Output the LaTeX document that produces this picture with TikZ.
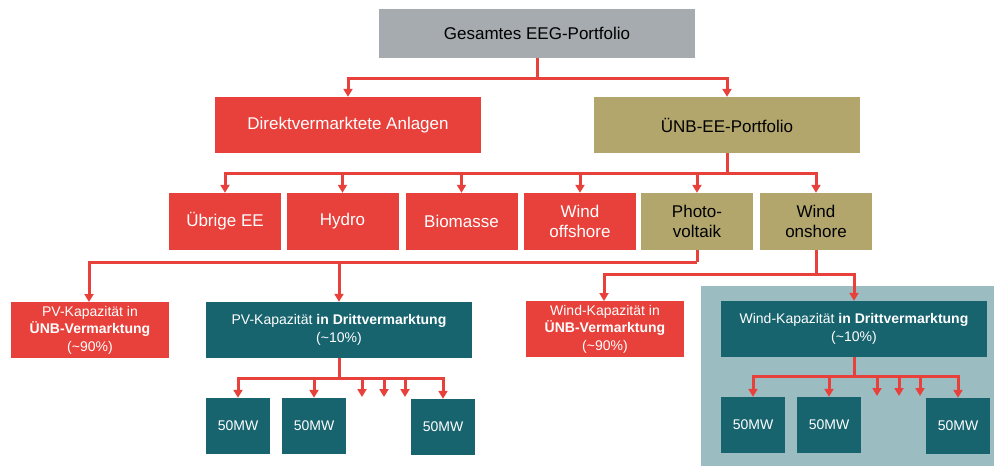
\documentclass[tikz,border=0pt]{standalone}
\usepackage{fontspec}
\setmainfont{Liberation Sans}
\usetikzlibrary{arrows.meta}
\definecolor{cred}{HTML}{E8403A}
\definecolor{cgrey}{HTML}{A5ABAE}
\definecolor{colive}{HTML}{B2A66D}
\definecolor{cteal}{HTML}{17646F}
\definecolor{clteal}{HTML}{9BBDC1}
\begin{document}
\begin{tikzpicture}[x=1pt,y=-1pt,
  box/.style={rectangle, inner sep=0pt, align=center, font=\fontsize{17}{20}\selectfont},
  redbox/.style={box, fill=cred, text=white},
  greybox/.style={box, fill=cgrey, text=black},
  olivebox/.style={box, fill=colive, text=black},
  tealbox/.style={box, fill=cteal, text=white},
  small/.style={font=\fontsize{14}{17.5}\selectfont},
  wide/.style={minimum width=266pt, minimum height=56pt},
  mid/.style={minimum width=158pt, minimum height=56pt},
  cat/.style={minimum width=112pt, minimum height=57pt},
  unit/.style={tealbox, small, minimum width=64pt, minimum height=56pt},
  redline/.style={draw=cred, line width=3pt},
  redarrow/.style={redline, -{Triangle[width=9pt,length=8pt]}},
]
\useasboundingbox (0,0) rectangle (994,466);
\fill[clteal] (701,286) rectangle (994,466);

% level 1-2
\node[greybox, minimum width=316pt, minimum height=49pt] (g) at (537,33.5) {Gesamtes EEG-Portfolio};
\node[redbox, wide] (dv) at (348,125) {Direktvermarktete Anlagen};
\node[olivebox, wide] (ue) at (727,125) {ÜNB-EE-Portfolio};

% level 3
\node[redbox, cat] (c1) at (225,221.5) {Übrige EE};
\node[redbox, cat] (c2) at (342.5,221.5) {Hydro};
\node[redbox, cat] (c3) at (461.5,221.5) {Biomasse};
\node[redbox, cat] (c4) at (580,221.5) {Wind\\offshore};
\node[olivebox, cat] (c5) at (697,221.5) {Photo-\\voltaik};
\node[olivebox, cat] (c6) at (816,221.5) {Wind\\onshore};

% level 4
\node[redbox, small, mid] (pvu) at (90,330) {PV-Kapazität in\\\textbf{ÜNB-Vermarktung}\\(\textasciitilde90\%)};
\node[tealbox, small, wide] (pvd) at (339,330) {PV-Kapazität \textbf{in Drittvermarktung}\\(\textasciitilde10\%)};
\node[redbox, small, mid] (wu) at (605,329) {Wind-Kapazität in\\\textbf{ÜNB-Vermarktung}\\(\textasciitilde90\%)};
\node[tealbox, small, wide] (wd) at (854,329) {Wind-Kapazität \textbf{in Drittvermarktung}\\(\textasciitilde10\%)};

% level 5
\node[unit] (p1) at (238,426) {50MW};
\node[unit] (p2) at (314,426) {50MW};
\node[unit] (p3) at (443,427) {50MW};
\node[unit] (w1) at (753,425) {50MW};
\node[unit] (w2) at (829,425) {50MW};
\node[unit] (w3) at (958,426) {50MW};

% junctions
\coordinate (jA) at (537,78);
\coordinate (jB) at (727,173);
\coordinate (jC) at (697,262);
\coordinate (jD) at (816,274);
\coordinate (jE) at (339,378);
\coordinate (jF) at (854,376);
\coordinate (pvuT) at (89,302);
\coordinate (wuT) at (604,301);
\coordinate (ps1) at (362,397);
\coordinate (ps2) at (384,397);
\coordinate (ps3) at (405,397);
\coordinate (ws1) at (877,396);
\coordinate (ws2) at (899,396);
\coordinate (ws3) at (920,396);

\draw[redline] (g.south) -- (jA);
\draw[redarrow] (jA) -| (dv.north);
\draw[redarrow] (jA) -| (ue.north);

\draw[redline] (ue.south) -- (jB);
\foreach \n in {c1,c2,c3,c4,c5,c6} \draw[redarrow] (jB) -| (\n.north);

\draw[redline] (c5.south) -- (jC);
\draw[redarrow] (jC) -| (pvuT);
\draw[redarrow] (jC) -| (pvd.north);

\draw[redline] (c6.south) -- (jD);
\draw[redarrow] (jD) -| (wuT);
\draw[redarrow] (jD) -| (wd.north);

\draw[redline] (pvd.south) -- (jE);
\foreach \n in {p1,p2,p3} \draw[redarrow] (jE) -| (\n.north);
\foreach \n in {ps1,ps2,ps3} \draw[redarrow] (jE) -| (\n);

\draw[redline] (wd.south) -- (jF);
\foreach \n in {w1,w2,w3} \draw[redarrow] (jF) -| (\n.north);
\foreach \n in {ws1,ws2,ws3} \draw[redarrow] (jF) -| (\n);
\end{tikzpicture}
\end{document}
